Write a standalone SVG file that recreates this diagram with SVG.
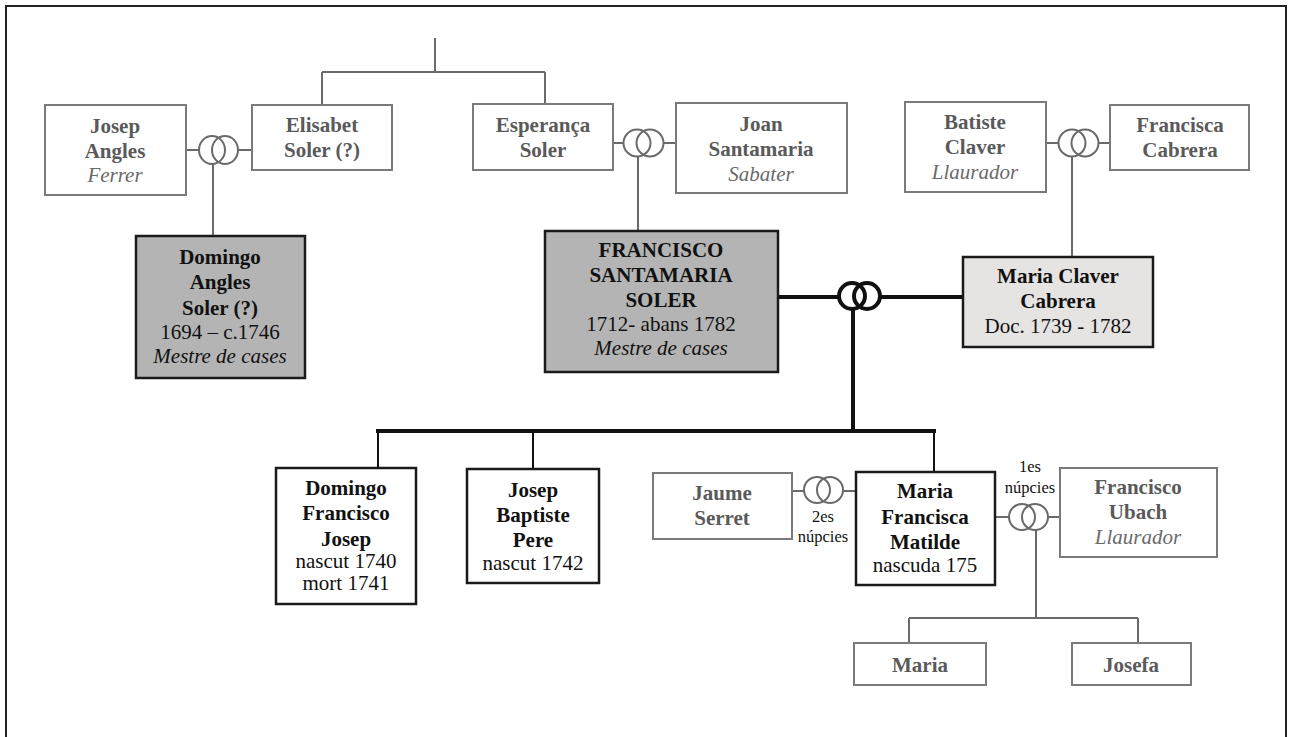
<svg xmlns="http://www.w3.org/2000/svg" width="1292" height="737" viewBox="0 0 1292 737">
<style>
text{font-family:"Liberation Serif","Times New Roman",serif;font-size:21px;text-anchor:middle}
.b{font-weight:bold}
.i{font-style:italic}
.g{fill:#5a5a5a}
.gi{fill:#6a6a6a;font-style:italic}
.k{fill:#111}
.sm{font-size:16.5px}
.gbox{fill:#fff;stroke:#7a7a7a;stroke-width:2}
.kbox{fill:#fff;stroke:#1a1a1a;stroke-width:2.5}
.dbox{fill:#b4b4b4;stroke:#1a1a1a;stroke-width:2.5}
.lbox{fill:#e6e4e2;stroke:#1a1a1a;stroke-width:2.5}
.gl{fill:none;stroke:#6a6a6a;stroke-width:2}
.kl{fill:none;stroke:#111;stroke-width:4}
.kt{fill:none;stroke:#111;stroke-width:2}
.gr{fill:none;stroke:#6a6a6a;stroke-width:2}
.kr{fill:none;stroke:#111;stroke-width:4}
</style>
<path d="M6,737 V6 H1286 V737" fill="none" stroke="#222" stroke-width="2"/>
<g id="connectors">
<path class="gl" d="M435,38 V72 M322,72 H545 M322,72 V105 M545,72 V104"/>
<path class="gl" d="M186,150 H199 M238,150 H252 M213,164 V236"/>
<ellipse class="gr" cx="212" cy="150" rx="13" ry="14"/>
<ellipse class="gr" cx="225" cy="150" rx="13" ry="14"/>
<path class="gl" d="M613,143 H623 M663,143 H676 M638,157 V231"/>
<circle class="gr" cx="637" cy="143" r="13.5"/>
<circle class="gr" cx="650" cy="143" r="13.5"/>
<path class="gl" d="M1046,143 H1059 M1098,143 H1110 M1072,157 V257"/>
<circle class="gr" cx="1072" cy="143" r="13.5"/>
<circle class="gr" cx="1085" cy="143" r="13.5"/>
<path class="kl" d="M778,297 H838 M881,297 H963 M853,310 V431 M376,431 H936"/>
<circle class="kr" cx="852" cy="296" r="13"/>
<circle class="kr" cx="867" cy="296" r="13"/>
<path class="kt" d="M378,431 V468 M533,431 V469 M934,431 V472"/>
<path class="gl" d="M792,491 H804 M843,491 H856"/>
<circle class="gr" cx="817" cy="490" r="13"/>
<circle class="gr" cx="830" cy="490" r="13"/>
<path class="gl" d="M995,517 H1009 M1047,517 H1060 M1036,530 V618 M909,618 H1138 M909,618 V643 M1138,618 V643"/>
<circle class="gr" cx="1022" cy="517" r="13"/>
<circle class="gr" cx="1035" cy="517" r="13"/>
</g>
<g id="josep-angles">
<rect class="gbox" x="45" y="105" width="141" height="90"/>
<text x="115" y="133" class="b g">Josep</text>
<text x="115" y="158" class="b g">Angles</text>
<text x="115" y="182" class="gi">Ferrer</text>
</g>
<g id="elisabet-soler">
<rect class="gbox" x="252" y="105" width="140" height="65"/>
<text x="322" y="132" class="b g">Elisabet</text>
<text x="322" y="157" class="b g">Soler (?)</text>
</g>
<g id="esperanca-soler">
<rect class="gbox" x="473" y="104" width="140" height="66"/>
<text x="543" y="132" class="b g">Esperança</text>
<text x="543" y="157" class="b g">Soler</text>
</g>
<g id="joan-santamaria">
<rect class="gbox" x="676" y="103" width="171" height="90"/>
<text x="761" y="131" class="b g">Joan</text>
<text x="761" y="156" class="b g">Santamaria</text>
<text x="761" y="181" class="gi">Sabater</text>
</g>
<g id="batiste-claver">
<rect class="gbox" x="905" y="102" width="141" height="90"/>
<text x="975" y="129" class="b g">Batiste</text>
<text x="975" y="154" class="b g">Claver</text>
<text x="975" y="179" class="gi">Llaurador</text>
</g>
<g id="francisca-cabrera">
<rect class="gbox" x="1110" y="105" width="139" height="65"/>
<text x="1180" y="132" class="b g">Francisca</text>
<text x="1180" y="157" class="b g">Cabrera</text>
</g>
<g id="domingo-angles">
<rect class="dbox" x="136" y="236" width="169" height="142"/>
<text x="220" y="264" class="b k">Domingo</text>
<text x="220" y="289" class="b k">Angles</text>
<text x="220" y="315" class="b k">Soler (?)</text>
<text x="220" y="339" class="k">1694 – c.1746</text>
<text x="220" y="363" class="k i">Mestre de cases</text>
</g>
<g id="francisco-santamaria">
<rect class="dbox" x="545" y="231" width="233" height="141"/>
<text x="661" y="257" class="b k">FRANCISCO</text>
<text x="661" y="282" class="b k">SANTAMARIA</text>
<text x="661" y="307" class="b k">SOLER</text>
<text x="661" y="331" class="k">1712-  abans 1782</text>
<text x="661" y="355" class="k i">Mestre de cases</text>
</g>
<g id="maria-claver">
<rect class="lbox" x="963" y="257" width="190" height="90"/>
<text x="1058" y="283" class="b k">Maria Claver</text>
<text x="1058" y="308" class="b k">Cabrera</text>
<text x="1058" y="333" class="k">Doc. 1739 - 1782</text>
</g>
<g id="domingo-francisco">
<rect class="kbox" x="276" y="468" width="140" height="136"/>
<text x="346" y="495" class="b k">Domingo</text>
<text x="346" y="520" class="b k">Francisco</text>
<text x="346" y="546" class="b k">Josep</text>
<text x="346" y="568" class="k">nascut 1740</text>
<text x="346" y="590" class="k">mort 1741</text>
</g>
<g id="josep-baptiste">
<rect class="kbox" x="467" y="469" width="132" height="114"/>
<text x="533" y="497" class="b k">Josep</text>
<text x="533" y="522" class="b k">Baptiste</text>
<text x="533" y="547" class="b k">Pere</text>
<text x="533" y="570" class="k">nascut 1742</text>
</g>
<g id="jaume-serret">
<rect class="gbox" x="653" y="473" width="139" height="66"/>
<text x="722" y="500" class="b g">Jaume</text>
<text x="722" y="525" class="b g">Serret</text>
</g>
<g id="label-2es">
<text x="823" y="522" class="k sm">2es</text>
<text x="823" y="542" class="k sm">núpcies</text>
</g>
<g id="maria-francisca">
<rect class="kbox" x="856" y="472" width="139" height="113"/>
<text x="925" y="498" class="b k">Maria</text>
<text x="925" y="524" class="b k">Francisca</text>
<text x="925" y="549" class="b k">Matilde</text>
<text x="925" y="572" class="k">nascuda 175</text>
</g>
<g id="label-1es">
<text x="1030" y="472" class="k sm">1es</text>
<text x="1030" y="493" class="k sm">núpcies</text>
</g>
<g id="francisco-ubach">
<rect class="gbox" x="1060" y="468" width="157" height="89"/>
<text x="1138" y="494" class="b g">Francisco</text>
<text x="1138" y="519" class="b g">Ubach</text>
<text x="1138" y="544" class="gi">Llaurador</text>
</g>
<g id="maria">
<rect class="gbox" x="854" y="643" width="132" height="42"/>
<text x="920" y="672" class="b g">Maria</text>
</g>
<g id="josefa">
<rect class="gbox" x="1072" y="643" width="119" height="42"/>
<text x="1131" y="672" class="b g">Josefa</text>
</g>
</svg>
